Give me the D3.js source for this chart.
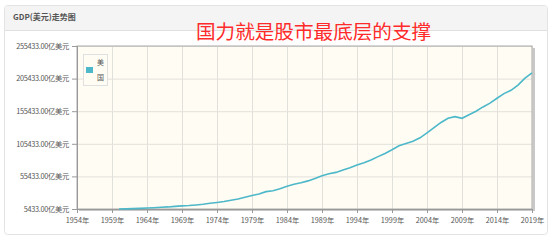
<!DOCTYPE html>
<html lang="zh">
<head>
<meta charset="utf-8">
<title>GDP(美元)走势图</title>
<script src="https://d3js.org/d3.v7.min.js"></script>
<style>
  body { margin:0; background:#fff; font-family:"Noto Sans CJK SC","Noto Sans",sans-serif; }
  .axis text { font-size:7.3px; fill:#555; font-family:"Noto Sans CJK SC",sans-serif; }
  .axis.y text { letter-spacing:-0.3px; }
  .axis .domain { stroke:#999; }
  .axis line { stroke:#999; }
  .grid line { stroke:#e2e0da; }
  .grid .domain { display:none; }
</style>
</head>
<body>
<script>
// US GDP, 亿美元
var years = d3.range(1960, 2020);
var gdp = [5433, 5633, 6051, 6386, 6858, 7437, 8150, 8617, 9425, 10199,
  10733, 11649, 12791, 14254, 15452, 16849, 18734, 20818, 23516, 26273,
  28573, 32070, 33438, 36340, 40376, 43390, 45796, 48552, 52364, 56416,
  59631, 61581, 65203, 68586, 72872, 76397, 80731, 85776, 90628, 96312,
  102510, 105818, 109364, 114582, 122137, 130366, 138146, 144519, 147128, 144489,
  149921, 155426, 161970, 167849, 175273, 182383, 187451, 195430, 206119, 214332];
var yTicks = [5433, 55433, 105433, 155433, 205433, 255433];
var xTicks = d3.range(1954, 2020, 5);
var seriesName = '美国';

var W = 554, H = 240;
var m = {left:77, right:22, top:46, bottom:31};
var svg = d3.select('body').append('svg').attr('width', W).attr('height', H);

// panel
svg.append('rect').attr('x', 4.5).attr('y', 5.5).attr('width', 543).attr('height', 229)
  .attr('rx', 3).attr('fill', '#fff').attr('stroke', '#e3e3e3');
svg.append('path').attr('d', 'M5,30H547V8.5Q547,6 544.5,6H7.5Q5,6 5,8.5Z').attr('fill', '#f4f4f4');
svg.append('line').attr('x1', 5).attr('x2', 547).attr('y1', 30.5).attr('y2', 30.5).attr('stroke', '#e0e0e0');
svg.append('text').attr('x', 13).attr('y', 20).attr('font-size', 8).attr('font-weight', 'bold')
  .attr('fill', '#555').text('GDP(美元)走势图');

var innerW = W - m.left - m.right, innerH = H - m.top - m.bottom;
var x = d3.scaleLinear().domain([1954, 2019]).range([0, innerW]);
var y = d3.scaleLinear().domain([5433, 255433]).range([innerH, 0]);
var g = svg.append('g').attr('transform', 'translate(' + [m.left, m.top] + ')');

// plot background + shadow
g.append('rect').attr('x', 2).attr('y', 2).attr('width', innerW + 1).attr('height', innerH)
  .attr('fill', '#c8c8c8');
g.append('rect').attr('width', innerW).attr('height', innerH).attr('fill', '#fffcf3');

g.append('g').attr('class', 'grid')
  .call(d3.axisLeft(y).tickValues(yTicks).tickSize(-innerW).tickFormat(''));
g.append('g').attr('class', 'grid')
  .call(d3.axisBottom(x).tickValues(xTicks).tickSize(innerH).tickFormat(''));
g.append('rect').attr('width', innerW).attr('height', innerH).attr('fill', 'none').attr('stroke', '#aaa');

g.append('g').attr('class', 'axis y')
  .call(d3.axisLeft(y).tickValues(yTicks).tickSize(5).tickPadding(3)
    .tickFormat(function(d){ return d3.format('.2f')(d) + '亿美元'; }));
g.append('g').attr('class', 'axis x').attr('transform', 'translate(0,' + innerH + ')')
  .call(d3.axisBottom(x).tickValues(xTicks).tickSize(4).tickPadding(5)
    .tickFormat(function(d){ return d + '年'; }));

var line = d3.line().x(function(d, i){ return x(years[i]); }).y(function(d){ return y(d); });
g.append('path').datum(gdp).attr('d', line).attr('fill', 'none')
  .attr('stroke', '#4cb8c9').attr('stroke-width', 1.6);

// legend
var lg = g.append('g').attr('transform', 'translate(6,8)');
lg.append('rect').attr('x', 0.5).attr('y', 0.5).attr('width', 24).attr('height', 31)
  .attr('fill', '#fffcf3').attr('stroke', '#e0e0e0');
lg.append('rect').attr('x', 3).attr('y', 13).attr('width', 7).attr('height', 6).attr('fill', '#4cb8c9');
lg.selectAll('.lt').data(seriesName.split('')).enter().append('text')
  .attr('x', 14).attr('y', function(d, i){ return 11 + i * 15; })
  .attr('font-size', 7).attr('fill', '#555').text(function(d){ return d; });

// overlay caption
svg.append('text').attr('x', 196).attr('y', 39).attr('font-size', 19.6).attr('fill', '#ff2a2a')
  .text('国力就是股市最底层的支撑');
</script>
</body>
</html>
